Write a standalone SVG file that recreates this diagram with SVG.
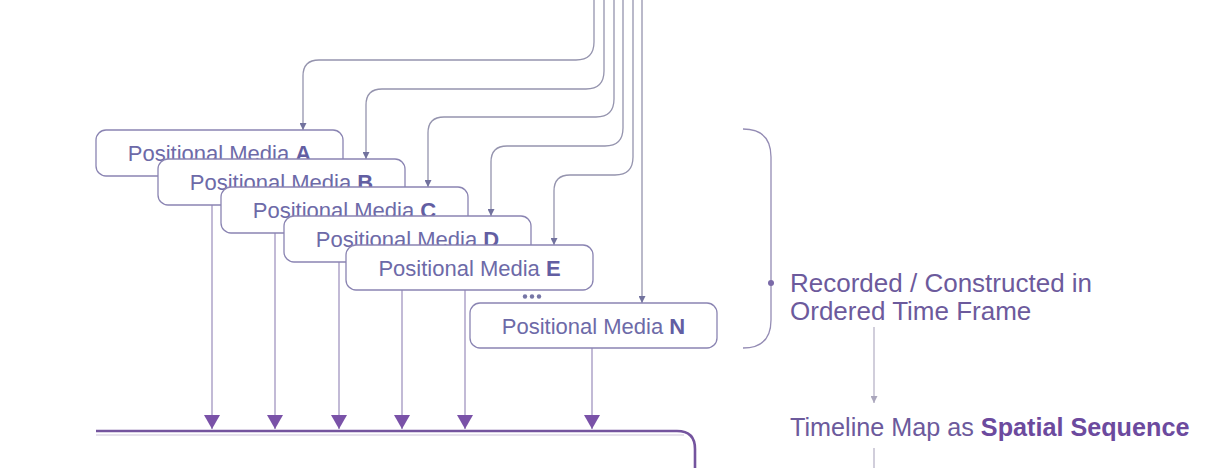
<svg xmlns="http://www.w3.org/2000/svg" width="1227" height="468" viewBox="0 0 1227 468">
  <style>
    .box { fill: #ffffff; stroke: #8a84b2; stroke-width: 1.3; }
    .lbl { font-family: "Liberation Sans", Arial, sans-serif; font-size: 22px; fill: #6d6aa8; text-anchor: middle; }
    .lbl tspan.b { font-weight: bold; fill: #625ea2; }
    .top { fill: none; stroke: #9594ae; stroke-width: 1.3; }
    .down { fill: none; stroke: #b3a9cc; stroke-width: 1.6; }
    .side { font-family: "Liberation Sans", Arial, sans-serif; fill: #6c5a9c; }
  </style>
  <defs>
    <marker id="sm" markerUnits="userSpaceOnUse" viewBox="0 0 8 8" refX="8" refY="4" markerWidth="7" markerHeight="7" orient="auto">
      <path d="M0,0 L8,4 L0,8 z" fill="#72729e"/>
    </marker>
    <marker id="big" markerUnits="userSpaceOnUse" viewBox="0 0 14 16" refX="14" refY="8" markerWidth="14" markerHeight="16" orient="auto">
      <path d="M0,0 L14,8 L0,16 z" fill="#7a52a8"/>
    </marker>
    <marker id="gr" markerUnits="userSpaceOnUse" viewBox="0 0 8 8" refX="8" refY="4" markerWidth="7" markerHeight="7" orient="auto">
      <path d="M0,0 L8,4 L0,8 z" fill="#aaa6bc"/>
    </marker>
  </defs>

  <g id="connectors">
    <path class="top" d="M594 0 V42 Q594 60 576 60 H319 Q303 60 303 76 V130" marker-end="url(#sm)"/>
    <path class="top" d="M604 0 V71 Q604 89 586 89 H382 Q366 89 366 105 V159" marker-end="url(#sm)"/>
    <path class="top" d="M614 0 V99 Q614 117 596 117 H444 Q428 117 428 133 V187" marker-end="url(#sm)"/>
    <path class="top" d="M623 0 V128 Q623 146 605 146 H507 Q491 146 491 162 V216" marker-end="url(#sm)"/>
    <path class="top" d="M633 0 V157 Q633 175 615 175 H570 Q554 175 554 191 V245" marker-end="url(#sm)"/>
    <path class="top" d="M642 0 V303" marker-end="url(#sm)"/>

    <path class="down" d="M212 176 V429" marker-end="url(#big)"/>
    <path class="down" d="M275 205 V429" marker-end="url(#big)"/>
    <path class="down" d="M339 233 V429" marker-end="url(#big)"/>
    <path class="down" d="M402 262 V429" marker-end="url(#big)" stroke="#c8c0da"/>
    <path class="down" d="M465 290 V429" marker-end="url(#big)"/>
    <path class="down" d="M592 348 V429" marker-end="url(#big)"/>

    <path d="M874 327 V403" fill="none" stroke="#b8b4c8" stroke-width="1.3" marker-end="url(#gr)"/>
    <path d="M874 448 V468" fill="none" stroke="#b8b4c8" stroke-width="1.3"/>
  </g>

  <g id="timeline-bar">
    <path d="M96 435 H684" fill="none" stroke="#e6e2ec" stroke-width="2"/>
    <path d="M96 431 H677 Q695 431 695 449 V468" fill="none" stroke="#74549e" stroke-width="2.6"/>
  </g>

  <g id="node-a">
    <rect class="box" x="96" y="130" width="247" height="46" rx="10"/>
    <text class="lbl" x="219.5" y="161">Positional Media <tspan class="b">A</tspan></text>
  </g>
  <g id="node-b">
    <rect class="box" x="158" y="159" width="247" height="46" rx="10"/>
    <text class="lbl" x="281.5" y="190">Positional Media <tspan class="b">B</tspan></text>
  </g>
  <g id="node-c">
    <rect class="box" x="221" y="187" width="247" height="46" rx="10"/>
    <text class="lbl" x="344.5" y="218">Positional Media <tspan class="b">C</tspan></text>
  </g>
  <g id="node-d">
    <rect class="box" x="284" y="216" width="247" height="46" rx="10"/>
    <text class="lbl" x="407.5" y="247">Positional Media <tspan class="b">D</tspan></text>
  </g>
  <g id="node-e">
    <rect class="box" x="346" y="245" width="247" height="45" rx="10"/>
    <text class="lbl" x="469.5" y="276">Positional Media <tspan class="b">E</tspan></text>
  </g>
  <g id="ellipsis">
    <circle cx="525" cy="296.5" r="2.2" fill="#7676a6"/>
    <circle cx="532" cy="296.5" r="2.2" fill="#7676a6"/>
    <circle cx="539" cy="296.5" r="2.2" fill="#7676a6"/>
  </g>
  <g id="node-n">
    <rect class="box" x="470" y="303" width="247" height="45" rx="10"/>
    <text class="lbl" x="593.5" y="334">Positional Media <tspan class="b">N</tspan></text>
  </g>

  <g id="brace">
    <path d="M743 129 Q771 129 771 157 V320 Q771 348 743 348" fill="none" stroke="#948cb4" stroke-width="1.3"/>
    <circle cx="771" cy="283" r="3" fill="#7a6aa8"/>
  </g>

  <g id="label-recorded">
    <text class="side" x="790" y="292" font-size="26">Recorded / Constructed in</text>
    <text class="side" x="790" y="320" font-size="26">Ordered Time Frame</text>
  </g>

  <g id="label-timeline">
    <text class="side" x="790" y="436" font-size="25.2" fill="#6a4f94">Timeline Map as <tspan font-weight="bold" fill="#6c4a9e">Spatial Sequence</tspan></text>
  </g>
</svg>
